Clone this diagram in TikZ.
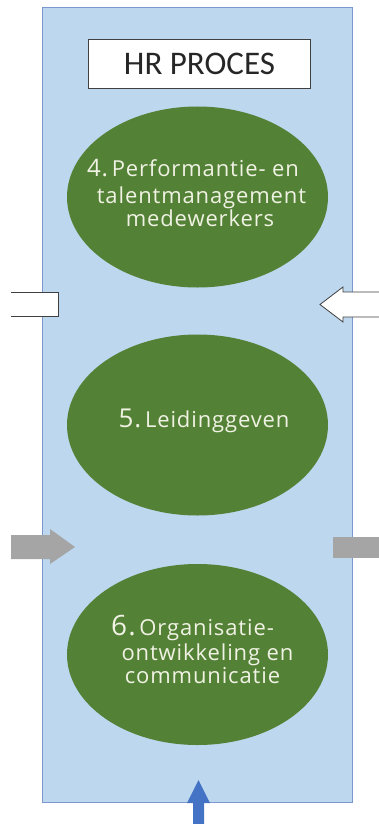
\documentclass[tikz,border=0pt]{standalone}
\usepackage{fontspec}
\usetikzlibrary{shapes.geometric}
\newfontfamily\titlefont{Carlito}
\newfontfamily\bodyfont{Open Sans}[LetterSpace=4]
\definecolor{panelfill}{HTML}{BDD7EE}
\definecolor{panelline}{HTML}{7C97D0}
\definecolor{leaf}{HTML}{538135}
\definecolor{leaftext}{HTML}{F0F2E4}
\definecolor{greyarrow}{HTML}{A5A5A5}
\definecolor{bluearrow}{HTML}{4472C4}
\definecolor{outline}{HTML}{404040}
\begin{document}
\begin{tikzpicture}[x=1pt,y=-1pt,
  stage/.style={ellipse,fill=leaf,draw=none,minimum width=261pt,minimum height=181pt,inner sep=0pt},
  stagetext/.style={anchor=base,inner sep=0pt,text=leaftext,font=\bodyfont\fontsize{22}{26}\selectfont},
  num/.style={},
  whitearrow/.style={draw=outline,line width=0.8pt,fill=white,line join=miter},
  greyshape/.style={fill=greyarrow,draw=none},
]
\useasboundingbox (0,0) rectangle (379,824);

% process panel
\node[draw=panelline,fill=panelfill,line width=1.2pt,minimum width=310pt,minimum height=795pt,inner sep=0pt,anchor=north west] (panel) at (42,7) {};

% title box
\node[draw=outline,fill=white,line width=0.9pt,minimum width=222pt,minimum height=49pt,inner sep=0pt,anchor=north west,font=\titlefont\fontsize{33}{36}\selectfont,text=black!85] (title) at (88,39) {HR PROCES};

% stages
\node[stage] (s4) at (197.5,197) {};
\node[stage] (s5) at (197.5,425) {};
\node[stage] (s6) at (197.5,654.5) {};

\node[stagetext] (s4a) at (193,176) {{\fontsize{24}{26}\selectfont 4.}\,Performantie- en};
\node[stagetext] (s4b) at (201.5,203) {talentmanagement};
\node[stagetext] (s4c) at (200,226) {medewerkers};

\node[stagetext] (s5a) at (204,427) {{\fontsize{26}{28}\selectfont 5.}\,Leidinggeven};

\node[stagetext] (s6a) at (192.5,635) {{\fontsize{28}{30}\selectfont 6.}\,Organisatie-};
\node[stagetext] (s6b) at (207.5,660) {ontwikkeling en};
\node[stagetext] (s6c) at (202.5,683) {communicatie};

% side arrows at the upper level
\coordinate (wlA) at (11,292);
\coordinate (wlB) at (11,316);
\fill[white] (wlA) rectangle (58,316);
\draw[whitearrow,fill=none] (wlA) -- (58,292) -- (58,316) -- (wlB);

\coordinate (wrA) at (379,292);
\coordinate (wrB) at (379,317);
\fill[white] (wrA) -- (343,292) -- (343,287) -- (320,304.5) -- (343,322) -- (343,317) -- (wrB) -- cycle;
\draw[whitearrow,fill=none] (wrA) -- (343,292) -- (343,287) -- (320,304.5) -- (343,322) -- (343,317) -- (wrB);

% side arrows at the lower level
\fill[greyshape] (11,535) -- (50,535) -- (50,529) -- (75,547) -- (50,564) -- (50,559) -- (11,559) -- cycle;
\fill[greyshape] (333,537) rectangle (379,558);

% input arrow from below
\fill[bluearrow] (193,824) -- (193,803) -- (187,803) -- (198.5,780) -- (210,803) -- (204,803) -- (204,824) -- cycle;
\end{tikzpicture}
\end{document}
